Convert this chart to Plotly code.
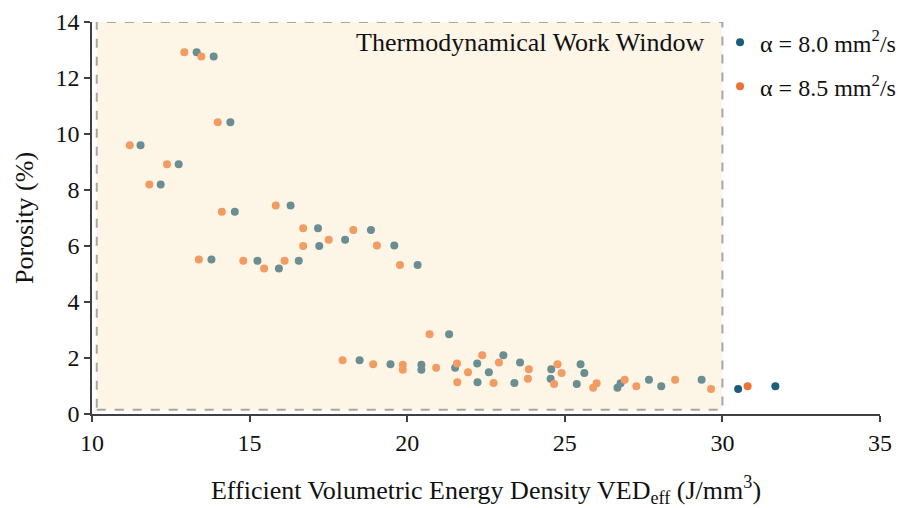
import plotly.graph_objects as go

# Efficient VED (J/mm^3) and porosity (%)
ved_a80 = [13.32, 13.86, 14.39, 11.54, 12.75, 12.18, 16.30, 14.53, 17.17, 18.85,
           18.03, 17.21, 19.59, 20.33, 13.79, 15.25, 15.93, 16.56, 21.33, 18.49,
           19.47, 20.45, 20.45, 21.52, 22.22, 22.23, 23.05, 22.59, 23.40, 23.58,
           24.57, 24.55, 25.50, 25.62, 25.38, 26.67, 26.77, 27.67, 28.06, 29.34,
           30.50, 31.68]
ved_a85 = [12.93, 13.47, 13.99, 11.20, 12.38, 11.82, 15.83, 14.12, 16.70, 18.29,
           17.51, 16.70, 19.04, 19.77, 13.39, 14.80, 15.46, 16.11, 20.71, 17.95,
           18.92, 19.86, 19.86, 20.92, 21.58, 21.59, 22.38, 21.93, 22.74, 22.91,
           23.86, 23.83, 24.77, 24.90, 24.66, 25.90, 26.01, 26.90, 27.27, 28.50,
           29.64, 30.80]
porosity = [12.92, 12.77, 10.42, 9.60, 8.92, 8.20, 7.45, 7.22, 6.63, 6.57,
            6.22, 6.00, 6.02, 5.32, 5.52, 5.47, 5.20, 5.47, 2.85, 1.92,
            1.78, 1.76, 1.58, 1.65, 1.80, 1.13, 2.10, 1.49, 1.11, 1.84,
            1.60, 1.26, 1.78, 1.46, 1.07, 0.94, 1.10, 1.22, 0.99, 1.22,
            0.89, 0.99]

series_names = ["α = 8.0 mm<sup>2</sup>/s", "α = 8.5 mm<sup>2</sup>/s"]
series_colors = ["#1b5e7c", "#ee7232"]

window_x = [10.15, 30.0]
window_y = [0.15, 14.0]
window_label = "Thermodynamical Work Window"

FONT = "Times New Roman, Tinos, Liberation Serif, DejaVu Serif, serif"

fig = go.Figure()
for name, xs, col, grp in [(series_names[0], ved_a80, series_colors[0], "a"),
                           (series_names[1], ved_a85, series_colors[1], "b")]:
    fig.add_trace(go.Scatter(x=xs, y=porosity, mode="markers", name=name,
                             legendgroup=grp,
                             marker=dict(size=8, color=col, line=dict(width=0))))

fig.add_shape(type="rect", xref="x", yref="y",
              x0=window_x[0], x1=window_x[1], y0=window_y[0], y1=window_y[1],
              fillcolor="rgba(249,227,186,0.36)",
              line=dict(color="#a6a6a6", width=2, dash="dash"),
              layer="above")

fig.add_annotation(x=23.88, y=13.27, xref="x", yref="y", text=window_label,
                   showarrow=False, font=dict(family=FONT, size=26, color="#111"))

axis_common = dict(showline=True, linecolor="#404040", linewidth=1.5,
                   ticks="outside", ticklen=6, tickcolor="#404040", tickwidth=1.5,
                   showgrid=False, zeroline=False, automargin=False,
                   tickfont=dict(family=FONT, size=24, color="#111"))

fig.update_xaxes(range=[10, 35], dtick=5, **axis_common,
                 title=dict(text="Efficient Volumetric Energy Density VED<sub>eff</sub> (J/mm<sup>3</sup>)",
                            font=dict(family=FONT, size=26, color="#111"), standoff=26))
fig.update_yaxes(range=[0, 14], dtick=2, **axis_common,
                 title=dict(text="Porosity (%)", font=dict(family=FONT, size=26, color="#111"),
                            standoff=14))

fig.update_layout(
    width=905, height=508,
    margin=dict(l=84, r=30, t=14, b=102),
    plot_bgcolor="white", paper_bgcolor="white",
    font=dict(family=FONT, size=24, color="#111"),
    showlegend=True,
    legend=dict(x=0.797, y=1.005, xanchor="left", yanchor="top",
                bgcolor="rgba(0,0,0,0)", font=dict(family=FONT, size=24, color="#111"),
                tracegroupgap=10, itemwidth=30, traceorder="grouped"),
)

fig.write_html("out.html")
